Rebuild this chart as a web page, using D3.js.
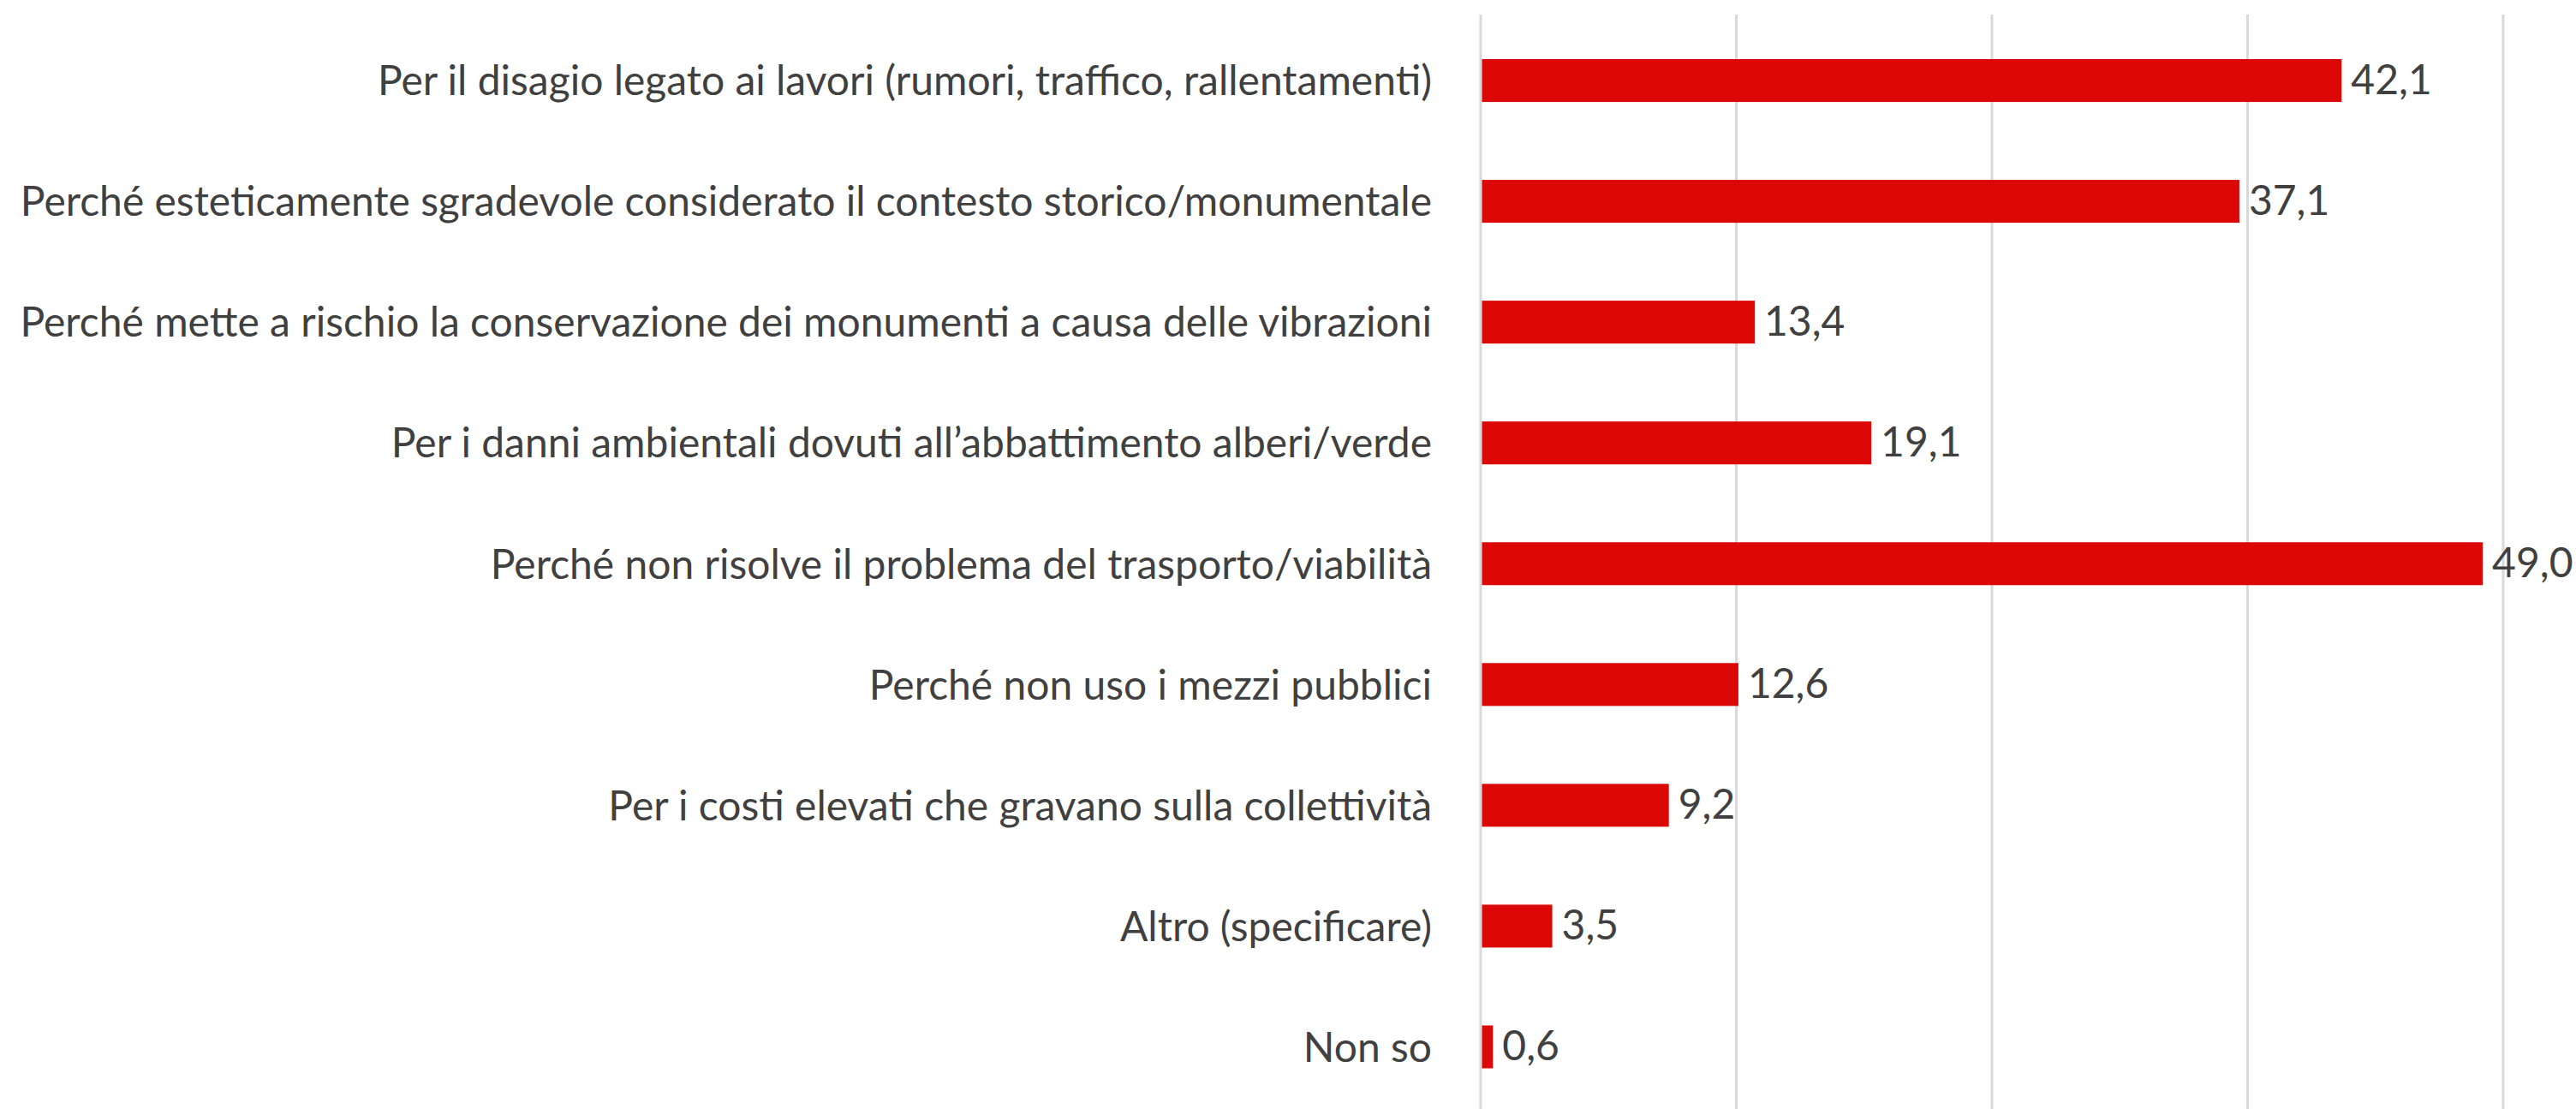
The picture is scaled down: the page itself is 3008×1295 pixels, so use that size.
<!DOCTYPE html>
<html>
<head>
<meta charset="utf-8">
<script src="https://d3js.org/d3.v7.min.js"></script>
<style>
  * { margin:0; padding:0; box-sizing:border-box; }
  body { background:#fff; overflow:hidden; }
  svg { display:block; }
</style>
</head>
<body>
<svg id="chart" width="3008" height="1295"></svg>
<script>
// ── Data ─────────────────────────────────────────────────────────────────────
const categories = [
  "Per il disagio legato ai lavori (rumori, traffico, rallentamenti)",
  "Perché esteticamente sgradevole considerato il contesto storico/monumentale",
  "Perché mette a rischio la conservazione dei monumenti a causa delle vibrazioni",
  "Per i danni ambientali dovuti all’abbattimento alberi/verde",
  "Perché non risolve il problema del trasporto/viabilità",
  "Perché non uso i mezzi pubblici",
  "Per i costi elevati che gravano sulla collettività",
  "Altro (specificare)",
  "Non so"
];
const values = [42.1, 37.1, 13.4, 19.1, 49.0, 12.6, 9.2, 3.5, 0.6];
const gridTicks = [0, 12.5, 25, 37.5, 50];

// ── Layout ───────────────────────────────────────────────────────────────────
const W = 3008, H = 1295;
const plotLeft = 1729, plotRight = 2923;
const FONT = "Lato, 'Open Sans', sans-serif";
const TEXT_COLOR = "#404040";
const BAR_COLOR = "#dc0808";

const svg = d3.select("#chart");

const x = d3.scaleLinear().domain([0, 50]).range([plotLeft, plotRight]);
const y = d3.scaleBand()
  .domain(categories)
  .range([23.5, 1293])
  .paddingInner(0.645)
  .paddingOuter(0.3225);

// fit font size so the longest label spans like the original
const probe = svg.append("text")
  .attr("font-family", FONT).attr("font-size", 50)
  .text(categories[2]);
const probeW = probe.node().getComputedTextLength();
probe.remove();
const fontSize = Math.min(50, 50 * 1649 / probeW);

// gridlines
svg.append("g")
  .selectAll("line")
  .data(gridTicks)
  .join("line")
  .attr("x1", d => x(d)).attr("x2", d => x(d))
  .attr("y1", 17).attr("y2", H)
  .attr("stroke", "#d9d9d9")
  .attr("stroke-width", 3);

// bars
svg.append("g")
  .selectAll("rect")
  .data(values)
  .join("rect")
  .attr("x", x(0) + 1.5)
  .attr("y", (d, i) => y(categories[i]))
  .attr("width", d => x(d) - x(0) - 1.5)
  .attr("height", y.bandwidth())
  .attr("fill", BAR_COLOR);

// value labels
svg.append("g")
  .selectAll("text")
  .data(values)
  .join("text")
  .attr("x", d => x(d) + 11)
  .attr("y", (d, i) => y(categories[i]) + y.bandwidth() / 2)
  .attr("dy", "0.33em")
  .attr("font-family", FONT)
  .attr("font-size", fontSize)
  .attr("fill", TEXT_COLOR)
  .text(d => d3.format(".1f")(d).replace(".", ","));

// category labels
svg.append("g")
  .selectAll("text")
  .data(categories)
  .join("text")
  .attr("x", 1672)
  .attr("y", d => y(d) + y.bandwidth() / 2)
  .attr("dy", "0.36em")
  .attr("text-anchor", "end")
  .attr("font-family", FONT)
  .attr("font-size", fontSize)
  .attr("fill", TEXT_COLOR)
  .text(d => d);
</script>
</body>
</html>
